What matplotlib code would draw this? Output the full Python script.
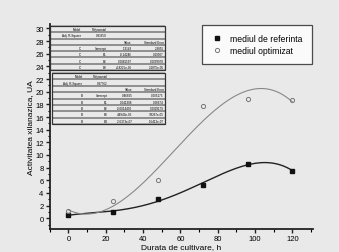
import numpy as np
import matplotlib.pyplot as plt
from matplotlib.ticker import MultipleLocator

# durata de cultivare, h
hours = [0, 24, 48, 72, 96, 120]
# activitatea xilanazica, UA
ref_values = [0.5, 1.0, 3.0, 5.3, 8.6, 7.5]
opt_values = [1.2, 2.7, 6.0, 17.7, 18.8, 18.7]

ref_label = "mediul de referinta"
opt_label = "mediul optimizat"
x_label = "Durata de cultivare, h"
y_label = "Activitatea xilanazica, UA"


def poly_fit(x, y, deg):
    x = np.asarray(x, float)
    y = np.asarray(y, float)
    X = np.vander(x, deg + 1, increasing=True)
    coef, *_ = np.linalg.lstsq(X, y, rcond=None)
    resid = y - X @ coef
    dof = max(len(x) - deg - 1, 1)
    s2 = resid @ resid / dof
    se = np.sqrt(np.abs(np.diag(np.linalg.pinv(X.T @ X) * s2)))
    ss_tot = ((y - y.mean()) ** 2).sum()
    adj_r2 = 1 - (resid @ resid / dof) / (ss_tot / (len(x) - 1))
    return coef, se, adj_r2


def fit_table(ax, bbox, name, coef, se, adj_r2):
    rows = [["Model", "Polynomial", "", ""],
            ["Adj. R-Square", f"{adj_r2:.5f}", "", ""],
            ["", "", "Value", "Standard Error"]]
    for i, (c, s) in enumerate(zip(coef, se)):
        term = "Intercept" if i == 0 else f"B{i}"
        rows.append([name, term, f"{c:.5g}", f"{s:.5g}"])
    t = ax.table(cellText=rows, bbox=bbox, edges="horizontal",
                 colWidths=[0.28, 0.22, 0.22, 0.28], zorder=4)
    t.auto_set_font_size(False)
    t.set_fontsize(2.2)
    for cell in t.get_celld().values():
        cell.set_linewidth(0.3)
        cell.set_facecolor("white")
        cell.PAD = 0.03
    ax.add_patch(plt.Rectangle((bbox[0], bbox[1]), bbox[2], bbox[3],
                               transform=ax.transAxes, fill=False,
                               lw=0.9, color="#333333", zorder=5))


plt.rcParams["font.family"] = "Liberation Sans"
fig = plt.figure(figsize=(3.39, 2.53), dpi=100, facecolor="#e9e9e9")
ax = fig.add_axes([0.147, 0.091, 0.776, 0.81])
ax.set_facecolor("#e9e9e9")

opt_coef, opt_se, opt_r2 = poly_fit(hours, opt_values, 3)
ref_coef, ref_se, ref_r2 = poly_fit(hours, ref_values, 4)
xs = np.linspace(0, 120, 200)
ax.plot(xs, np.polyval(ref_coef[::-1], xs), color="#222222", lw=1.0, zorder=2)
ax.plot(xs, np.polyval(opt_coef[::-1], xs), color="#888888", lw=0.8, zorder=2)

ax.plot(hours, ref_values, "s", color="#111111", ms=3.5, label=ref_label,
        zorder=3)
ax.plot(hours, opt_values, "o", mfc="none", mec="#777777", mew=0.7, ms=3,
        label=opt_label, zorder=3)

ax.set_xlim(-10, 131)
ax.set_ylim(-1.7, 30.7)
ax.xaxis.set_major_locator(MultipleLocator(20))
ax.xaxis.set_minor_locator(MultipleLocator(10))
ax.yaxis.set_major_locator(MultipleLocator(2))
ax.yaxis.set_minor_locator(MultipleLocator(1))
ax.tick_params(labelsize=5.5, width=1.0, length=3, pad=1.5, color="#222222")
ax.tick_params(which="minor", length=1.8, width=0.8)
for side in ["top", "right"]:
    ax.spines[side].set_visible(False)
for side in ["left", "bottom"]:
    ax.spines[side].set_linewidth(1.3)
    ax.spines[side].set_color("#222222")

ax.set_xlabel(x_label, fontsize=6, labelpad=0.5)
ax.set_ylabel(y_label, fontsize=6, labelpad=1)

fit_table(ax, [0.0, 0.776, 0.437, 0.214], "C", opt_coef, opt_se, opt_r2)
fit_table(ax, [0.008, 0.512, 0.429, 0.249], "B", ref_coef, ref_se, ref_r2)

leg = ax.legend(loc="upper right", bbox_to_anchor=(1.0, 1.0), fontsize=6.2,
                frameon=True, fancybox=False, edgecolor="#222222",
                borderpad=1.1, handletextpad=0.8, handlelength=1.4,
                labelspacing=0.3, borderaxespad=0.1)
leg.get_frame().set_linewidth(0.9)

plt.savefig("out.png", dpi=100, facecolor=fig.get_facecolor())
plt.close()
